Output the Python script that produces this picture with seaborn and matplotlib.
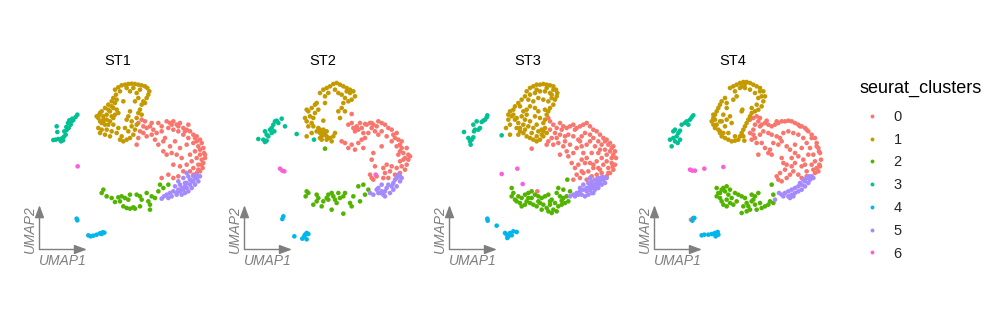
import matplotlib
matplotlib.use("Agg")
import matplotlib.pyplot as plt
import seaborn as sns
import pandas as pd
from matplotlib.lines import Line2D

sns.set_theme(style="white")
plt.rcParams['font.family'] = ['Liberation Sans', 'DejaVu Sans']

samples = ["ST1", "ST2", "ST3", "ST4"]
clusters = ["0", "1", "2", "3", "4", "5", "6"]
colors = ["#F8766D", "#C49A00", "#53B400", "#00C094", "#00B6EB", "#A58AFF", "#FB61D7"]

# ---------------- ST1 ----------------
st1_c0 = [(29.5,-13.5),(30.5,-12.5),(31.5,-13.0),(31.0,-14.5),(32.0,-15.0),(33.0,-14.5),(34.0,-15.5),
          (30.0,-16.0),(29.5,-18.0),(29.0,-20.0),(32.0,-17.5),(33.5,-17.0),(35.0,-16.5),(34.5,-18.5),
          (35.5,-20.0),(37.0,-19.0),(37.5,-18.0),(38.0,-13.0),(39.0,-13.5),(40.0,-13.0),(41.0,-14.0),
          (42.0,-13.5),(43.0,-15.0),(44.0,-15.5),(45.0,-16.0),(46.0,-17.0),(47.0,-17.5),(48.0,-18.5),
          (48.5,-19.5),(49.0,-21.0),(49.2,-22.5),(49.5,-24.0),(49.0,-25.5),(48.8,-27.0),(48.0,-28.0),
          (47.0,-28.5),(46.0,-29.0),(45.0,-28.0),(47.5,-26.0),(47.0,-24.0),(46.5,-22.0),(47.5,-20.5),
          (46.0,-19.5),(44.5,-18.0),(43.0,-17.0),(41.5,-16.0),(40.0,-15.5),(38.5,-15.0),(36.5,-16.0),
          (44.0,-20.0),(45.0,-23.0),(45.5,-25.0),(44.0,-26.0),(42.5,-24.0),(41.0,-23.0),(39.5,-22.5),
          (38.0,-23.0),(37.0,-22.0),(43.0,-28.0),(42.0,-26.5),(40.0,-26.0),(38.5,-29.0),(36.5,-30.0),
          (40.0,-30.0),(41.5,-29.5),(39.0,-20.5),(42.0,-21.0),(40.5,-19.0),(35.5,-13.5),(36.5,-14.5),
          (44.5,-14.0),(47.0,-19.0),(48.0,-23.0),(46.0,-27.0),(48.5,-26.0),(48.0,-21.5),(48.5,-24.5),
          (47.5,-27.5),(49.5,-23.0),(46.5,-18.0),(43.5,-16.0),(41.5,-14.5),(39.5,-14.0),(33.5,-13.5),
          (31.0,-16.5)]
st1_c1 = [(22.5,-3.5),(23.5,-2.8),(24.5,-2.2),(25.5,-2.0),(26.5,-1.8),(27.5,-1.7),(28.5,-1.8),(29.5,-2.0),
          (30.5,-2.2),(31.5,-2.5),(32.2,-3.0),(32.8,-4.0),(32.5,-5.0),(32.0,-6.0),(30.0,-3.5),(28.0,-3.0),
          (26.0,-3.0),(24.0,-4.0),(27.0,-4.0),(29.0,-4.5),(31.0,-7.0),(30.5,-8.0),(31.5,-7.5),(30.0,-9.5),
          (29.5,-10.5),(30.5,-11.0),(29.0,-12.0),(29.5,-6.0),(28.5,-7.0),(25.0,-7.0),(23.5,-10.5),
          (27.0,-10.0),(26.0,-12.5),(27.5,-13.0),(26.5,-11.5),(22.8,-5.0),(22.0,-6.0),(21.5,-7.0),
          (20.5,-8.0),(19.5,-9.0),(18.5,-10.0),(17.8,-11.0),(17.5,-12.0),(18.0,-13.0),(19.0,-12.5),
          (20.0,-11.0),(21.0,-10.0),(22.0,-9.0),(21.5,-11.5),(20.0,-12.5),(18.5,-13.5),(19.5,-14.0),
          (22.5,-7.5),(23.0,-9.5),(21.0,-13.0),(22.0,-14.0),(17.5,-15.0),(18.5,-15.5),(20.0,-15.5),
          (21.5,-16.0),(23.0,-16.5),(24.5,-17.5),(24.0,-18.5),(25.0,-19.0),(26.0,-18.5),(27.0,-18.0),
          (28.0,-17.0),(28.5,-15.5),(26.5,-16.0),(25.5,-15.0),(23.5,-15.0),(19.5,-17.0),(21.0,-17.5),
          (18.0,-16.5),(29.0,-14.0),(27.5,-14.5),(17.0,-11.5),(18.0,-10.5),(19.0,-11.5),(20.5,-9.5),
          (21.5,-8.5),(22.0,-12.0),(19.0,-13.0),(20.5,-14.0),(23.0,-6.5),(22.5,-11.0)]
st1_c2 = [(18.5,-34.5),(19.0,-33.5),(20.0,-35.5),(21.5,-36.0),(22.5,-37.2),(23.5,-35.8),(24.5,-35.5),
          (25.5,-36.0),(26.5,-36.5),(27.0,-35.0),(25.0,-38.5),(26.0,-39.0),(27.0,-39.2),(28.0,-38.8),
          (29.0,-35.0),(30.0,-35.5),(30.5,-36.5),(32.0,-34.5),(32.5,-37.0),(33.0,-39.5),(33.5,-35.5),
          (34.5,-36.0),(35.5,-34.0),(36.0,-32.0),(37.0,-33.0),(38.5,-32.0),(33.0,-38.0),(24.0,-37.0),
          (28.5,-39.2),(30.0,-38.5)]
st1_c3 = [(4.0,-18.6),(4.7,-18.5),(5.5,-18.3),(6.3,-19.0),(6.6,-18.1),(7.2,-17.6),(7.7,-17.0),(7.3,-16.0),
          (8.0,-15.6),(8.6,-15.0),(9.2,-14.0),(9.5,-13.0),(10.0,-12.6),(10.7,-11.7),(11.2,-11.0),(8.8,-12.7),
          (7.9,-14.7),(5.2,-16.2),(5.0,-14.5),(6.9,-18.7),(8.4,-13.5),(9.7,-12.2)]
st1_c4 = [(11.0,-42.2),(11.2,-42.7),(14.5,-47.2),(15.2,-47.5),(16.0,-47.3),(17.0,-47.0),(18.0,-46.6),
          (18.8,-46.3),(18.5,-46.8),(19.3,-46.4)]
st1_c5 = [(36.5,-36.2),(37.2,-35.5),(38.0,-35.0),(39.0,-34.5),(40.0,-34.0),(41.0,-34.5),(42.0,-34.0),
          (43.0,-33.5),(44.0,-33.0),(45.0,-32.0),(46.0,-31.0),(47.0,-30.0),(48.0,-29.5),(47.5,-31.0),
          (46.5,-32.0),(45.5,-33.0),(44.5,-34.0),(43.5,-34.5),(42.5,-35.0),(41.5,-33.5),(40.5,-32.5),
          (42.0,-32.0),(43.5,-31.5),(45.0,-30.5),(46.0,-29.5),(44.5,-29.5),(43.0,-30.0),(41.5,-31.0),
          (44.0,-28.5),(39.5,-35.5),(38.5,-36.0),(47.0,-29.0),(43.5,-32.5),(42.5,-33.0),(44.0,-31.5),
          (45.5,-31.0),(41.0,-35.0),(46.5,-30.0)]
st1_c6 = [(11.3,-26.5)]

# ---------------- ST2 ----------------
st2_c0 = [(31.0,-14.0),(32.0,-13.5),(32.5,-15.0),(33.5,-14.5),(34.0,-15.5),(33.0,-16.0),(34.5,-13.5),
          (35.0,-15.0),(35.5,-16.5),(36.5,-14.0),(37.5,-13.5),(38.0,-15.0),(38.5,-14.0),(39.5,-14.5),
          (40.0,-13.0),(41.0,-13.5),(42.0,-14.0),(43.0,-15.0),(44.0,-15.5),(44.5,-17.0),(45.0,-18.0),
          (45.5,-16.5),(46.0,-18.5),(46.5,-20.0),(47.0,-21.0),(47.5,-22.5),(48.0,-24.0),(49.0,-24.5),
          (49.5,-23.5),(48.5,-26.0),(48.0,-27.5),(47.0,-26.5),(46.5,-25.0),(46.0,-23.0),(47.0,-19.0),
          (45.5,-20.5),(44.0,-19.0),(42.5,-17.5),(41.0,-16.0),(40.0,-17.0),(39.0,-16.0),(37.0,-16.5),
          (36.0,-18.0),(35.0,-18.5),(34.0,-19.5),(32.0,-20.0),(30.0,-19.5),(29.0,-19.0),(31.0,-21.0),
          (33.0,-21.5),(35.5,-21.0),(38.5,-22.5),(38.0,-24.5),(39.0,-26.5),(41.0,-20.5),(42.5,-26.0),
          (44.0,-26.5),(43.5,-28.0),(42.0,-28.5),(43.0,-30.0),(41.5,-27.0),(45.5,-27.0),(46.5,-28.5),
          (45.0,-29.0),(37.5,-29.0),(38.5,-30.5),(39.5,-29.5),(38.0,-30.0),(41.5,-30.0),(48.5,-21.0),
          (32.0,-10.8),(33.5,-15.0),(36.0,-13.8),(38.0,-13.5),(46.5,-22.0),(47.5,-24.5),(49.0,-23.0)]
st2_c1 = [(22.5,-4.5),(23.5,-3.5),(24.5,-3.0),(25.5,-2.5),(26.5,-1.8),(27.5,-1.5),(28.5,-2.0),(29.5,-2.5),
          (30.5,-3.0),(31.5,-3.5),(32.5,-4.0),(33.0,-5.5),(32.0,-6.5),(31.0,-7.0),(30.0,-6.0),(29.0,-5.0),
          (27.0,-3.5),(25.0,-4.5),(24.0,-5.5),(28.0,-4.5),(29.5,-7.5),(29.0,-9.0),(28.0,-10.0),(30.0,-10.0),
          (28.5,-12.0),(18.5,-9.5),(19.0,-10.0),(20.0,-9.0),(21.0,-8.0),(21.5,-7.5),(18.0,-12.0),(18.5,-13.0),
          (19.5,-11.5),(20.5,-12.0),(20.0,-13.5),(19.0,-14.5),(21.0,-10.5),(22.0,-9.5),(23.5,-12.8),
          (22.0,-15.0),(21.5,-16.0),(22.5,-16.5),(23.0,-17.5),(24.0,-17.0),(24.5,-16.0),(23.5,-15.5),
          (23.0,-18.5),(24.5,-18.5),(25.5,-18.0),(26.5,-17.5),(27.0,-16.5),(26.0,-19.0),(22.5,-18.0),
          (18.5,-17.5),(20.0,-16.5),(24.0,-7.5),(20.5,-14.5),(31.5,-4.5),(30.5,-4.0),(22.5,-15.5),
          (23.5,-16.5),(24.5,-17.5)]
st2_c2 = [(18.5,-34.0),(19.0,-34.5),(18.2,-35.5),(21.5,-35.0),(22.0,-36.0),(21.5,-37.0),(20.5,-38.0),
          (23.0,-38.5),(23.5,-37.0),(24.5,-36.0),(25.0,-35.0),(26.0,-34.5),(26.5,-35.5),(27.0,-36.5),
          (27.5,-37.5),(28.0,-34.5),(28.5,-36.0),(29.5,-35.5),(30.0,-34.5),(26.0,-39.5),(29.5,-40.7),
          (31.5,-37.5),(32.0,-38.5),(32.5,-35.5),(34.5,-37.0),(34.0,-32.5),(35.5,-32.0),(36.0,-35.0),
          (37.0,-33.5),(24.0,-21.2),(25.0,-36.5)]
st2_c3 = [(4.0,-18.3),(6.0,-16.0),(6.5,-17.0),(7.0,-17.5),(7.5,-15.5),(8.0,-15.0),(8.5,-14.0),(9.0,-13.0),
          (9.5,-12.8),(10.0,-13.5),(11.0,-12.2),(12.0,-14.5),(5.5,-18.5),(6.5,-18.8),(8.0,-16.5),
          (8.8,-16.0),(15.5,-16.8),(20.7,-18.5),(6.0,-19.2)]
st2_c4 = [(11.5,-41.5),(11.2,-42.3),(14.8,-47.5),(17.2,-48.2),(18.0,-47.0),(18.5,-46.5),(19.0,-46.8),
          (18.5,-48.4),(17.8,-47.5)]
st2_c5 = [(37.5,-34.5),(38.5,-35.0),(39.5,-33.5),(40.0,-33.0),(40.5,-34.5),(41.0,-34.0),(41.5,-35.0),
          (42.0,-34.0),(42.5,-33.0),(43.0,-32.0),(44.0,-32.5),(44.5,-31.5),(45.0,-30.5),(45.5,-30.0),
          (46.0,-29.0),(46.5,-31.0),(45.5,-32.5),(44.5,-33.5),(43.5,-34.5),(42.0,-35.5),(41.0,-32.0),
          (40.0,-34.5),(46.5,-29.5),(47.0,-30.0)]
st2_c6 = [(10.5,-27.2),(11.2,-27.8),(11.8,-28.0),(39.2,-29.0)]

# ---------------- ST3 ----------------
st3_c0 = [(29.5,-12.0),(30.0,-13.0),(31.0,-14.0),(32.0,-15.0),(33.0,-13.5),(34.0,-14.5),(35.0,-15.0),
          (36.0,-14.5),(37.0,-14.0),(38.0,-15.0),(39.0,-14.5),(40.0,-14.0),(41.0,-13.5),(42.0,-14.5),
          (43.0,-15.5),(44.0,-16.0),(45.0,-17.0),(46.0,-18.0),(47.0,-18.5),(48.0,-19.5),(49.0,-20.5),
          (49.5,-22.0),(49.8,-24.0),(49.5,-26.0),(49.0,-27.5),(48.0,-28.5),(47.0,-29.5),(46.0,-30.0),
          (47.5,-27.0),(47.0,-25.0),(48.5,-24.0),(48.0,-22.0),(46.5,-21.5),(45.5,-20.0),(44.5,-19.0),
          (43.0,-18.0),(42.0,-17.0),(40.5,-16.5),(39.5,-17.5),(38.5,-18.5),(37.0,-17.5),(35.5,-17.0),
          (34.5,-17.5),(33.0,-17.0),(31.5,-16.5),(30.5,-18.0),(29.5,-19.0),(29.0,-20.0),(31.0,-20.0),
          (32.5,-19.5),(34.0,-20.5),(35.0,-22.0),(33.0,-23.0),(35.5,-23.5),(37.0,-22.5),(38.0,-21.0),
          (39.5,-20.5),(41.0,-20.0),(42.0,-19.0),(43.5,-20.5),(44.5,-22.5),(45.5,-24.0),(46.0,-26.0),
          (45.0,-27.5),(44.0,-29.0),(43.0,-27.0),(42.0,-25.5),(41.0,-24.0),(39.5,-24.5),(38.5,-26.0),
          (37.5,-27.0),(38.0,-29.0),(39.0,-30.0),(37.0,-30.5),(40.0,-28.5),(41.5,-28.0),(42.5,-29.5),
          (41.0,-30.5),(44.0,-25.0),(42.5,-22.5),(40.0,-22.5),(36.5,-25.5),(34.5,-19.0),(36.0,-20.0),
          (30.0,-15.5),(45.5,-28.5),(47.0,-23.0),(48.5,-25.5),(26.2,-34.0),(24.5,-21.2),
          (46.5,-19.0),(47.5,-20.0),(48.5,-21.0),(49.0,-23.0),(48.8,-26.5),(47.5,-28.5),(44.5,-27.0),
          (43.0,-26.0),(45.0,-21.5),(39.0,-19.0),(37.5,-15.5),(33.5,-15.5),(32.0,-18.0),(40.5,-25.5),
          (39.5,-28.0)]
st3_c1 = [(23.0,-4.0),(24.0,-3.0),(25.0,-2.5),(26.0,-2.0),(27.0,-2.0),(28.0,-1.8),(29.0,-2.0),(30.0,-2.2),
          (31.0,-2.5),(31.8,-3.5),(32.2,-4.5),(32.0,-5.5),(31.5,-6.5),(31.0,-8.0),(30.0,-9.0),(29.5,-10.0),
          (29.0,-11.0),(28.5,-12.5),(28.0,-13.5),(28.5,-15.0),(29.0,-16.5),(28.0,-17.5),(27.0,-18.5),
          (26.0,-19.0),(25.0,-18.5),(24.0,-18.0),(23.0,-17.5),(22.0,-16.5),(21.0,-16.0),(20.0,-15.0),
          (20.5,-13.5),(19.5,-12.5),(18.5,-11.5),(17.5,-11.0),(18.0,-10.0),(19.0,-9.5),(19.5,-8.5),
          (20.5,-7.5),(21.5,-6.5),(22.5,-5.5),(24.0,-5.0),(25.5,-4.5),(27.0,-4.0),(28.5,-4.0),(30.0,-4.5),
          (30.5,-6.0),(29.5,-7.0),(28.0,-6.5),(26.5,-6.0),(25.0,-7.0),(24.0,-8.5),(23.0,-9.5),(22.0,-10.0),
          (21.5,-11.5),(22.5,-12.5),(24.0,-13.0),(25.5,-11.5),(26.5,-10.0),(27.0,-12.0),(26.0,-14.0),
          (25.0,-15.0),(24.5,-16.5),(26.5,-16.0),(27.5,-15.5),(23.5,-14.5),(22.0,-14.0),(21.0,-15.0),
          (17.5,-12.5),(18.0,-14.0),(16.8,-15.0),(18.0,-17.0),(25.5,-9.0),(28.5,-9.5),(20.5,-17.0),
          (31.0,-3.5),(30.5,-5.0),(29.0,-3.0),(26.0,-3.5),(23.5,-6.5),(21.0,-8.5),(19.0,-11.0),
          (20.0,-12.0),(22.5,-15.5),(26.0,-17.5),(27.5,-17.0),(28.0,-16.0),(23.0,-11.0)]
st3_c2 = [(18.5,-33.0),(19.0,-34.5),(18.5,-35.5),(19.5,-36.5),(20.0,-37.0),(21.0,-37.5),(21.5,-36.0),
          (22.5,-35.0),(23.5,-34.5),(24.5,-34.0),(25.5,-35.0),(26.5,-35.5),(27.5,-36.0),(28.5,-35.5),
          (29.5,-35.0),(30.5,-36.5),(31.5,-37.5),(32.5,-38.5),(33.5,-38.0),(34.5,-37.5),(35.5,-37.0),
          (35.0,-35.5),(34.0,-33.5),(32.5,-33.0),(32.0,-34.5),(33.0,-35.5),(34.0,-36.0),(30.0,-38.0),
          (29.0,-39.0),(29.5,-40.0),(30.5,-40.5),(28.0,-38.0),(27.0,-37.5),(26.0,-38.5),(25.0,-38.0),
          (24.0,-37.5),(22.5,-38.0),(21.5,-38.5),(23.5,-36.0),(31.0,-39.5),(32.0,-40.0),(20.5,-35.5),
          (27.5,-39.5),(35.2,-30.5),(36.0,-34.0),(24.5,-36.0),(23.0,-37.0),(26.5,-37.0),(33.5,-36.8),
          (30.0,-37.0)]
st3_c3 = [(4.2,-16.2),(5.5,-18.0),(6.0,-19.0),(6.2,-20.0),(6.5,-18.5),(7.0,-17.8),(7.2,-16.0),(7.5,-15.5),
          (8.5,-15.5),(9.0,-15.0),(8.0,-13.0),(9.5,-13.2),(10.0,-12.8),(10.5,-12.5),(11.0,-11.8),
          (11.2,-11.2),(7.0,-14.0),(15.5,-17.2)]
st3_c4 = [(11.2,-42.2),(11.3,-42.8),(14.0,-44.3),(16.5,-46.5),(17.0,-47.0),(17.5,-47.5),(18.0,-46.5),
          (19.0,-46.0),(20.0,-46.2),(18.5,-47.2),(17.2,-48.0)]
st3_c5 = [(36.0,-35.5),(37.0,-35.0),(38.0,-34.5),(39.0,-34.0),(40.0,-33.5),(41.0,-33.0),(42.0,-32.5),
          (43.0,-32.0),(44.0,-31.5),(45.0,-31.0),(46.0,-30.5),(47.0,-30.0),(46.5,-31.5),(45.5,-32.0),
          (44.5,-33.0),(43.5,-33.5),(42.5,-34.5),(41.5,-35.0),(40.5,-35.5),(39.5,-35.0),(41.0,-34.0),
          (42.0,-33.5),(43.0,-33.0),(44.0,-32.5),(45.0,-31.8),(40.0,-32.0),(41.5,-31.5),(42.5,-31.0),
          (43.5,-30.5),(44.5,-30.0),(45.5,-29.8),(42.0,-30.0),(39.0,-33.0),(37.5,-35.5),(43.0,-34.5),
          (44.5,-31.0),(43.5,-32.0),(42.0,-32.0),(46.0,-29.8),(41.5,-33.5),(38.5,-35.0)]
st3_c6 = [(15.5,-28.8),(20.2,-27.2),(21.8,-31.8)]

# ---------------- ST4 ----------------
st4_c0 = [(28.5,-12.5),(29.5,-12.0),(30.5,-11.5),(31.0,-13.0),(30.0,-14.0),(31.5,-14.5),(32.0,-14.0),
          (33.0,-13.5),(34.0,-14.0),(35.0,-14.5),(36.0,-14.0),(37.0,-13.5),(38.0,-13.0),(39.0,-13.0),
          (40.0,-12.8),(41.0,-13.0),(42.0,-13.5),(43.0,-14.0),(44.0,-14.5),(45.0,-15.0),(46.0,-16.0),
          (47.0,-17.0),(48.0,-18.0),(48.5,-19.5),(49.0,-21.0),(49.5,-22.5),(49.8,-24.5),(49.5,-26.5),
          (49.0,-28.0),(48.0,-28.5),(47.5,-27.5),(47.0,-26.0),(48.0,-25.0),(47.5,-23.0),(46.5,-21.0),
          (45.5,-19.5),(44.5,-18.0),(43.0,-17.0),(41.5,-16.5),(40.0,-16.0),(38.5,-16.5),(37.5,-18.0),
          (36.5,-17.5),(35.0,-17.0),(34.0,-16.5),(32.5,-16.0),(31.5,-17.0),(30.0,-18.0),(29.0,-18.5),
          (28.5,-16.5),(30.5,-19.5),(32.0,-19.5),(33.0,-21.0),(34.5,-21.5),(35.0,-23.0),(34.0,-22.5),
          (35.5,-19.5),(37.0,-20.0),(38.0,-19.0),(39.5,-20.5),(40.5,-21.5),(42.0,-22.5),(43.0,-23.5),
          (44.5,-24.5),(45.0,-26.0),(44.0,-26.5),(42.0,-25.5),(41.0,-26.5),(39.5,-26.0),(38.5,-25.5),
          (38.0,-24.0),(39.0,-27.5),(37.5,-28.5),(36.5,-29.5),(37.0,-30.5),(38.0,-31.0),(39.5,-30.0),
          (40.5,-29.0),(41.5,-28.0),(43.0,-29.0),(44.0,-30.0),(45.5,-29.5),(45.5,-28.0),(46.0,-23.0),
          (42.0,-20.0),(44.0,-21.0),(31.0,-23.0),(41.0,-24.0),(10.8,-42.5),
          (48.5,-20.5),(49.2,-22.0),(49.3,-26.0),(48.5,-27.0),(47.0,-18.0),(45.5,-15.5),(43.5,-14.5),
          (36.5,-13.0),(33.5,-12.8),(31.5,-12.0),(29.5,-15.5),(29.5,-17.0)]
st4_c1 = [(22.5,-3.0),(23.5,-2.5),(24.5,-2.0),(25.5,-1.5),(26.5,-1.2),(27.5,-1.2),(28.5,-1.5),(29.5,-2.0),
          (30.5,-2.5),(31.5,-3.0),(32.5,-4.0),(33.0,-5.5),(32.5,-7.0),(32.0,-8.5),(31.0,-9.5),(30.0,-10.0),
          (29.0,-9.0),(30.5,-8.0),(31.0,-6.0),(30.0,-4.5),(28.5,-3.5),(27.0,-3.0),(25.5,-3.0),(24.0,-4.0),
          (24.5,-5.5),(23.5,-6.5),(21.0,-6.0),(20.0,-7.0),(19.5,-8.0),(19.0,-9.0),(18.5,-10.0),(18.0,-11.0),
          (17.5,-12.0),(17.0,-13.0),(17.5,-14.0),(18.0,-15.0),(19.0,-15.5),(19.5,-16.5),(20.0,-17.5),
          (21.0,-18.0),(22.0,-18.5),(23.0,-19.0),(24.0,-18.8),(25.0,-18.5),(25.5,-17.5),(26.0,-16.5),
          (26.5,-15.5),(27.0,-14.5),(27.5,-13.5),(28.0,-12.5),(28.5,-11.5),(29.0,-10.5),(21.5,-7.5),
          (21.5,-9.0),(20.5,-11.0),(20.0,-13.0),(21.5,-12.5),(22.5,-11.5),(23.0,-13.5),(21.0,-14.5),
          (22.0,-16.5),(24.0,-17.5),(19.5,-13.0),(26.2,-9.5),(26.0,-10.0),(26.5,-17.5),(26.8,-18.8),
          (17.5,-11.0),(18.0,-12.5),(18.5,-14.0),(19.5,-16.0),(20.5,-16.5),(27.0,-1.8),(26.0,-2.5),
          (31.5,-4.0),(32.0,-5.5)]
st4_c2 = [(18.5,-33.0),(19.0,-34.5),(18.5,-35.5),(19.5,-36.0),(20.0,-33.5),(20.5,-33.0),(21.0,-34.0),
          (21.5,-32.5),(22.0,-35.0),(21.5,-36.5),(20.0,-37.0),(20.5,-38.0),(21.5,-38.5),(22.5,-37.5),
          (23.0,-36.0),(24.0,-34.5),(25.0,-35.0),(26.0,-35.5),(27.0,-36.0),(27.5,-37.5),(28.0,-38.5),
          (28.5,-39.5),(29.0,-37.0),(29.5,-36.5),(30.0,-38.0),(30.5,-39.5),(31.5,-37.5),(32.0,-39.0),
          (33.0,-38.5),(34.0,-38.0),(34.5,-37.0),(35.5,-35.0),(35.5,-37.5),(35.0,-32.0),(26.0,-40.5),
          (27.5,-40.0),(24.5,-37.0),(22.5,-33.5),(30.0,-35.5),(26.5,-38.5),(23.5,-38.0),(19.5,-34.5),
          (29.0,-35.0),(31.0,-34.5)]
st4_c3 = [(4.5,-18.5),(5.0,-20.5),(5.5,-18.0),(6.0,-19.0),(6.5,-17.5),(7.0,-16.5),(7.5,-15.8),(6.0,-15.5),
          (5.5,-16.0),(8.0,-14.0),(9.0,-13.5),(9.5,-13.0),(10.5,-12.5),(11.0,-11.8),(11.5,-11.2),
          (7.5,-18.5),(6.8,-19.5),(10.0,-14.0)]
st4_c4 = [(11.5,-42.0),(11.2,-42.8),(11.8,-42.0),(14.0,-47.2),(14.8,-47.0),(16.0,-47.0),(17.0,-46.8),
          (18.0,-46.5),(18.8,-46.2),(19.0,-47.0),(18.2,-47.5),(17.5,-46.8)]
st4_c5 = [(37.2,-34.5),(38.0,-35.0),(39.0,-34.5),(40.0,-34.0),(41.0,-33.5),(41.5,-35.5),(42.0,-33.0),
          (43.0,-32.5),(44.0,-32.0),(45.0,-31.0),(45.5,-30.0),(46.2,-29.5),(47.0,-29.5),(47.5,-30.0),
          (46.5,-30.5),(46.0,-31.5),(45.0,-32.5),(44.0,-33.5),(43.0,-34.0),(42.0,-34.5),(41.0,-35.0),
          (40.0,-35.5),(38.5,-35.5),(40.5,-36.0),(44.5,-30.5),(43.5,-31.5),(36.0,-36.5)]
st4_c6 = [(10.5,-27.5),(11.2,-27.8),(12.0,-27.8),(14.8,-27.2),(20.5,-26.7)]

panels = {
    "ST1": [st1_c0, st1_c1, st1_c2, st1_c3, st1_c4, st1_c5, st1_c6],
    "ST2": [st2_c0, st2_c1, st2_c2, st2_c3, st2_c4, st2_c5, st2_c6],
    "ST3": [st3_c0, st3_c1, st3_c2, st3_c3, st3_c4, st3_c5, st3_c6],
    "ST4": [st4_c0, st4_c1, st4_c2, st4_c3, st4_c4, st4_c5, st4_c6],
}

rows = []
for s in samples:
    for c, pts in zip(clusters, panels[s]):
        for x, y in pts:
            rows.append((s, c, x, y))
df = pd.DataFrame(rows, columns=["sample", "seurat_clusters", "UMAP_1", "UMAP_2"])
pal = dict(zip(clusters, colors))

W, H = 993, 312
fig = plt.figure(figsize=(W / 100, H / 100), dpi=100)
fig.patch.set_facecolor("white")

corner_y = 249.5
ax_w, ax_h = 180.0, 171.5
lefts = [39.5, 244.5, 449.5, 654.5]
gray = "#7F7F7F"

for s, left in zip(samples, lefts):
    ax = fig.add_axes([left / W, (H - corner_y) / H, ax_w / W, ax_h / H])
    sub = df[df["sample"] == s]
    sns.scatterplot(data=sub, x="UMAP_1", y="UMAP_2", hue="seurat_clusters",
                    hue_order=clusters, palette=pal, s=11, linewidth=0,
                    legend=False, ax=ax)
    ax.set_xlim(-0.15, 53.85)
    ax.set_ylim(-51.45, 0)
    ax.axis("off")
    ax.text((118 - 39.5) / ax_w, 1 + (78 - 60.5) / ax_h, s, transform=ax.transAxes,
            ha="center", va="center", fontsize=10.5, color="black")
    arrow = dict(arrowstyle="-|>,head_length=0.75,head_width=0.28", color=gray,
                 lw=1.0, shrinkA=0, shrinkB=0, mutation_scale=10)
    ax.annotate("", xy=(0, 44.3 / ax_h), xytext=(0, 0), xycoords="axes fraction",
                arrowprops=arrow, annotation_clip=False)
    ax.annotate("", xy=(47.4 / ax_w, 0), xytext=(0, 0), xycoords="axes fraction",
                arrowprops=arrow, annotation_clip=False)
    ax.text((30 - 39.5) / ax_w, (corner_y - 229) / ax_h, "UMAP2", transform=ax.transAxes,
            rotation=90, ha="center", va="center", fontsize=10, style="italic", color=gray)
    ax.text((62.5 - 39.5) / ax_w, (corner_y - 261) / ax_h, "UMAP1", transform=ax.transAxes,
            ha="center", va="center", fontsize=10, style="italic", color=gray)

fig.text(859 / W, (H - 88) / H, "seurat_clusters", ha="left", va="center",
         fontsize=13, color="black")
handles = [Line2D([], [], marker="o", linestyle="", markersize=2.8,
                  markerfacecolor=col, markeredgewidth=0) for col in colors]
fig.legend(handles, clusters, loc="upper left",
           bbox_to_anchor=(859 / W, (H - 110) / H), frameon=False, fontsize=10.5,
           handlelength=1.73, handletextpad=0.65,
           labelspacing=0.6, borderpad=0, borderaxespad=0)

fig.savefig("out.png", dpi=100, facecolor="white")
